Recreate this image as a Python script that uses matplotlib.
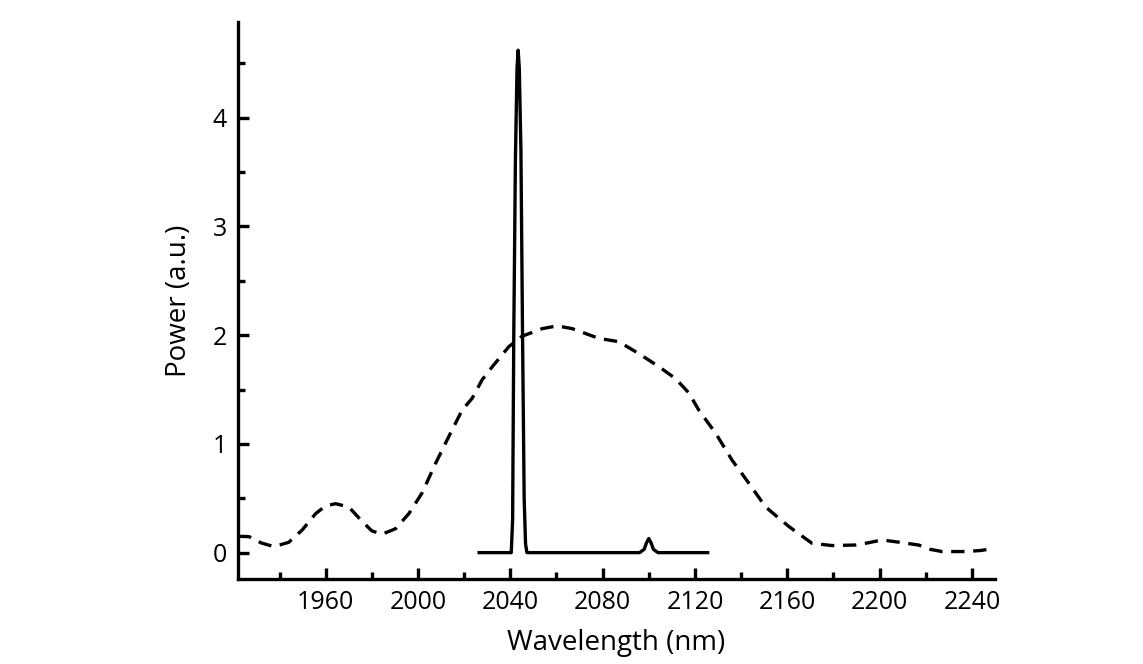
import matplotlib
matplotlib.use("Agg")
from matplotlib import pyplot as plt
from matplotlib.ticker import MultipleLocator

# broadband (dashed) spectrum
broad_nm = [1922, 1926.8, 1932, 1937.6, 1944, 1949.9, 1955.7, 1960, 1964.3, 1970,
            1975.9, 1980, 1984.5, 1990.3, 1996.1, 2001.8, 2007.6, 2013.4, 2019.1,
            2023.5, 2027.8, 2032.2, 2039.4, 2045.1, 2053.8, 2060.3, 2066.8, 2078.4,
            2087, 2095.7, 2104.4, 2111.6, 2117.3, 2121.7, 2128.9, 2136.1, 2143.3,
            2150.6, 2160.7, 2170.7, 2179.4, 2189.5, 2195, 2201, 2209.7, 2216.9,
            2222, 2227, 2237.2, 2244, 2250]
broad_pw = [0.15, 0.147, 0.09, 0.055, 0.095, 0.21, 0.36, 0.43, 0.45, 0.42,
            0.285, 0.2, 0.17, 0.22, 0.36, 0.55, 0.82, 1.07, 1.31,
            1.42, 1.59, 1.71, 1.895, 1.99, 2.06, 2.085, 2.06, 1.97,
            1.94, 1.83, 1.71, 1.6, 1.47, 1.31, 1.10, 0.85, 0.64,
            0.42, 0.24, 0.086, 0.065, 0.07, 0.09, 0.117, 0.092, 0.07,
            0.03, 0.01, 0.01, 0.02, 0.04]

# narrow laser line (solid)
laser_nm = [2026.5, 2040.4, 2041.0, 2041.5, 2042.2, 2042.9, 2043.4, 2043.9, 2044.6,
            2045.3, 2046.0, 2046.6, 2047.2, 2060, 2096, 2098, 2099, 2100, 2101, 2102,
            2104, 2125.5]
laser_pw = [0, 0, 0.3, 2.0, 3.6, 4.45, 4.62, 4.45, 3.7,
            2.0, 0.5, 0.08, 0, 0, 0, 0.03, 0.09, 0.13, 0.09, 0.03,
            0, 0]

xticks = [1960, 2000, 2040, 2080, 2120, 2160, 2200, 2240]
yticks = [0, 1, 2, 3, 4]

plt.rcParams["font.family"] = ["Open Sans", "DejaVu Sans"]

fig = plt.figure(figsize=(11.43, 6.64), dpi=100)
ax = fig.add_axes([0.2082, 0.1276, 0.6623, 0.8393])

ax.plot(broad_nm, broad_pw, color="black", lw=2.4, linestyle=(0, (4, 2.6)))
ax.plot(laser_nm, laser_pw, color="black", lw=2.4, solid_joinstyle="round")

ax.set_xlim(1922, 2250)
ax.set_ylim(-0.245, 4.88)
ax.set_xticks(xticks)
ax.set_yticks(yticks)
ax.xaxis.set_minor_locator(MultipleLocator(20))
ax.yaxis.set_minor_locator(MultipleLocator(0.5))

for side in ["top", "right"]:
    ax.spines[side].set_visible(False)
for side in ["left", "bottom"]:
    ax.spines[side].set_linewidth(2.4)

ax.tick_params(which="major", direction="in", length=8, width=2.4, labelsize=18, pad=8)
ax.tick_params(which="minor", direction="in", length=5, width=2.4)

ax.set_xlabel("Wavelength (nm)", fontsize=20, labelpad=10)
ax.set_ylabel("Power (a.u.)", fontsize=20, labelpad=14)

fig.savefig("out.png", dpi=100)
